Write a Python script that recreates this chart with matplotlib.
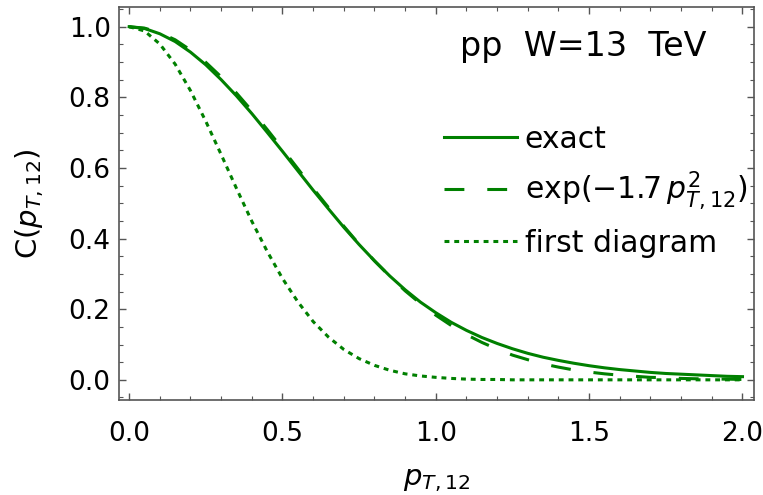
import numpy as np
import matplotlib
matplotlib.use("Agg")
import matplotlib.pyplot as plt
from matplotlib.ticker import MultipleLocator

# p_T,12 grid
p_t = [0.00, 0.05, 0.10, 0.15, 0.20, 0.25, 0.30, 0.35, 0.40, 0.45,
       0.50, 0.55, 0.60, 0.65, 0.70, 0.75, 0.80, 0.85, 0.90, 0.95,
       1.00, 1.05, 1.10, 1.15, 1.20, 1.25, 1.30, 1.35, 1.40, 1.45,
       1.50, 1.55, 1.60, 1.65, 1.70, 1.75, 1.80, 1.85, 1.90, 1.95, 2.00]

exact = [1.000, 0.995, 0.980, 0.958, 0.928, 0.892, 0.850, 0.804, 0.754, 0.701,
         0.647, 0.592, 0.537, 0.484, 0.432, 0.383, 0.337, 0.294, 0.255, 0.220,
         0.190, 0.163, 0.140, 0.120, 0.103, 0.088, 0.075, 0.064, 0.055, 0.047,
         0.040, 0.034, 0.029, 0.025, 0.021, 0.018, 0.016, 0.014, 0.012, 0.010, 0.009]

gauss_fit = [1.000, 0.996, 0.983, 0.963, 0.934, 0.899, 0.858, 0.812, 0.762, 0.709,
             0.654, 0.598, 0.542, 0.488, 0.435, 0.384, 0.337, 0.293, 0.252, 0.216,
             0.183, 0.154, 0.128, 0.106, 0.087, 0.070, 0.057, 0.045, 0.036, 0.028,
             0.022, 0.017, 0.013, 0.010, 0.007, 0.006, 0.004, 0.003, 0.002, 0.002, 0.001]

first_diagram = [1.000, 0.988, 0.951, 0.894, 0.819, 0.732, 0.638, 0.542, 0.449, 0.364,
                 0.287, 0.221, 0.165, 0.121, 0.086, 0.060, 0.041, 0.027, 0.017, 0.011,
                 0.007, 0.004, 0.002, 0.001, 0.001, 0.000, 0.000, 0.000, 0.000, 0.000,
                 0.000, 0.000, 0.000, 0.000, 0.000, 0.000, 0.000, 0.000, 0.000, 0.000, 0.000]

green = "#008000"
frame = "#555555"

fig = plt.figure(figsize=(7.63, 4.95), dpi=100)
ax = fig.add_axes([0.156, 0.192, 0.832, 0.794])

ax.plot(p_t, exact, color=green, lw=2.2, label="exact")
ax.plot(p_t, gauss_fit, color=green, lw=2.2, dashes=(6.5, 7.5),
        label=r"exp($-$1.7$\,p^2_{T,12}$)")
ax.plot(p_t, first_diagram, color=green, lw=2.2, dashes=(1.6, 1.6),
        label="first diagram")

ax.set_xlim(-0.033, 2.037)
ax.set_ylim(-0.057, 1.056)
ax.xaxis.set_major_locator(MultipleLocator(0.5))
ax.xaxis.set_minor_locator(MultipleLocator(0.1))
ax.yaxis.set_major_locator(MultipleLocator(0.2))
ax.yaxis.set_minor_locator(MultipleLocator(0.05))
ax.tick_params(which="both", direction="in", top=True, right=True,
               color=frame, labelsize=19)
ax.tick_params(which="major", length=5, width=1)
ax.tick_params(which="minor", length=3, width=0.8)
ax.tick_params(axis="x", pad=15)
ax.tick_params(axis="y", pad=6)
for s in ax.spines.values():
    s.set_color(frame)
    s.set_linewidth(1.2)

ax.set_xlabel(r"$p_{T,12}$", fontsize=21, labelpad=14)
ax.set_ylabel(r"C($p_{T,12}$)", fontsize=21, labelpad=16)

ax.text(0.732, 0.90, "pp  W=13  TeV", transform=ax.transAxes,
        fontsize=24, ha="center", va="center")

ax.legend(loc="upper left", bbox_to_anchor=(0.512, 0.70), frameon=False,
          fontsize=21.5, handlelength=2.45, handletextpad=0.25,
          labelspacing=0.55, borderaxespad=0, borderpad=0)

fig.savefig("out.png", dpi=100)
